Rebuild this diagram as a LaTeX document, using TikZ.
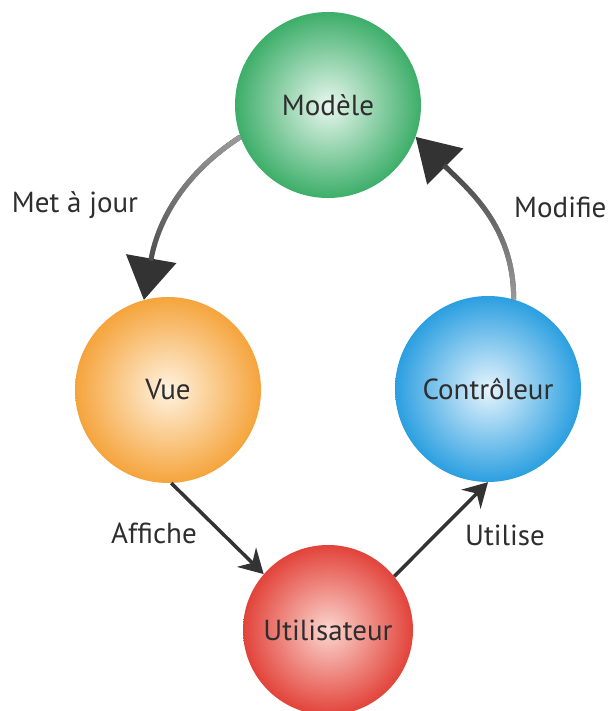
\documentclass[tikz,border=0pt]{standalone}
\usepackage{xcolor}
\usepackage{tikz}
\usetikzlibrary{arrows.meta,fadings}
\usepackage{fontspec}
\setmainfont{PT Sans}
\definecolor{mvcgreen}{HTML}{3DAE69}
\definecolor{mvcgreenlt}{HTML}{E8F7EE}
\definecolor{mvcorange}{HTML}{F5A43C}
\definecolor{mvcorangelt}{HTML}{FFF3E0}
\definecolor{mvcblue}{HTML}{2B9FE0}
\definecolor{mvcbluelt}{HTML}{E6F4FD}
\definecolor{mvcred}{HTML}{E2433A}
\definecolor{mvcredlt}{HTML}{FBD6CF}
\definecolor{mvctext}{HTML}{2E2E2E}
\definecolor{mvcarrow}{HTML}{333333}
\definecolor{mvcarrowlt}{HTML}{9C9C9C}

\begin{document}
\begin{tikzpicture}[x=1pt,y=1pt,
  ball/.style={circle,minimum size=186pt,inner sep=0pt,shading=radial,text=mvctext,font=\fontsize{29}{33}\selectfont},
  lbl/.style={text=mvctext,font=\fontsize{29}{33}\selectfont,inner sep=0pt},
  bigarrow/.style={line width=5pt,mvcarrow,-{Triangle[length=42pt,width=50pt]}},
  fadearrow/.style={line width=5pt,mvcarrowlt,shorten >=40pt},
  thinarrow/.style={line width=3.5pt,mvcarrow,-{Stealth[length=24pt,width=27pt,inset=8pt]}}]
  \useasboundingbox[fill=white] (0,0) rectangle (613,711);
  % the four parts
  \node[ball,inner color=mvcgreenlt,outer color=mvcgreen] (modele) at (328,606) {Modèle};
  \node[ball,inner color=mvcorangelt,outer color=mvcorange] (vue) at (168,321) {Vue};
  \node[ball,inner color=mvcbluelt,outer color=mvcblue] (ctrl) at (488,322) {Contrôleur};
  \node[ball,minimum size=170pt,inner color=mvcredlt,outer color=mvcred] (util) at (328,81) {Utilisateur};
  % links
  \draw[bigarrow] (modele.200) to[out=213,in=80] (vue.105);
  \draw[fadearrow,path fading=south] (modele.200) to[out=213,in=80] (vue.105);
  \draw[bigarrow] (ctrl.74) to[out=90,in=-45] (modele.340);
  \draw[fadearrow,path fading=north] (ctrl.74) to[out=90,in=-45] (modele.340);
  \draw[thinarrow] (vue.-88) -- (util.139);
  \draw[thinarrow] (util.39) -- (ctrl.south);
  \node[lbl] (majlbl) at (75,506) {Met à jour};
  \node[lbl,anchor=west] (modlbl) at (514,504) {Modifie};
  \node[lbl,anchor=west] (afflbl) at (111,178) {Affiche};
  \node[lbl,anchor=west] (utllbl) at (465,176) {Utilise};
\end{tikzpicture}
\end{document}
